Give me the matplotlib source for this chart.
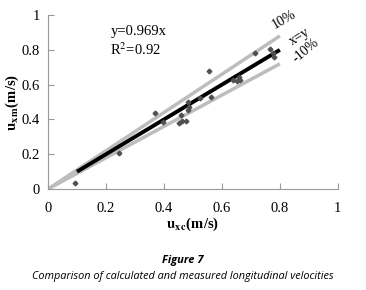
import numpy as np
import matplotlib
matplotlib.use("Agg")
import matplotlib.pyplot as plt

# measured vs calculated longitudinal velocities
u_calc = [0.095, 0.245, 0.37, 0.397, 0.452, 0.46, 0.463, 0.477, 0.483, 0.483, 0.485,
          0.523, 0.557, 0.563, 0.638, 0.652, 0.661, 0.659, 0.713, 0.767, 0.776, 0.779]
u_meas = [0.033, 0.209, 0.44, 0.387, 0.381, 0.425, 0.393, 0.393, 0.454, 0.502, 0.473,
          0.521, 0.678, 0.531, 0.626, 0.62, 0.626, 0.642, 0.78, 0.803, 0.78, 0.761]

xticks = [0, 0.2, 0.4, 0.6, 0.8, 1]
yticks = [0, 0.2, 0.4, 0.6, 0.8, 1]
band_x = [0, 0.8]
line_x = [0.1, 0.8]

plt.rcParams['font.family'] = ['Liberation Serif', 'DejaVu Serif']
plt.rcParams['mathtext.fontset'] = 'stix'

fig = plt.figure(figsize=(3.66, 2.9), dpi=100)
ax = fig.add_axes([0.131, 0.348, 0.792, 0.6])

bx = np.array(band_x)
ax.plot(bx, 1.1 * bx, color='#bdbdbd', lw=2.5, solid_capstyle='butt')
ax.plot(bx, 0.9 * bx, color='#bdbdbd', lw=2.5, solid_capstyle='butt')
ax.plot(line_x, line_x, color='black', lw=2.8, solid_capstyle='butt')
ax.plot(u_calc, u_meas, 'D', color='#505050', ms=2.4, mec='#505050')

ax.set_xlim(0, 1)
ax.set_ylim(0, 1)
ax.set_xticks(xticks)
ax.set_yticks(yticks)
ax.set_xticklabels(['0', '0.2', '0.4', '0.6', '0.8', '1'])
ax.set_yticklabels(['0', '0.2', '0.4', '0.6', '0.8', '1'])
ax.tick_params(direction='in', length=4, color='#999999', labelsize=10.5, pad=6)
ax.tick_params(axis='x', pad=9)
for s in ['top', 'right']:
    ax.spines[s].set_visible(False)
for s in ['left', 'bottom']:
    ax.spines[s].set_color('#999999')

ax.text(0.215, 0.905, 'y=0.969x', fontsize=10.5, va='center')
ax.text(0.215, 0.8, 'R$^2$=0.92', fontsize=10.5, va='center')
ax.text(0.815, 0.975, '10%', fontsize=10, rotation=30, ha='center', va='center')
ax.text(0.87, 0.875, 'x=y', fontsize=10, rotation=32, ha='center', va='center')
ax.text(0.89, 0.795, '-10%', fontsize=10, rotation=40, ha='center', va='center')

ax.set_xlabel(r'$\mathbf{u_{x\,c}}$(m/s)', fontsize=10.5, fontweight='bold', labelpad=1)
ax.set_ylabel(r'$\mathbf{u_{x\,m}}$(m/s)', fontsize=10.5, fontweight='bold', labelpad=0)

fig.text(0.5, 0.1, 'Figure 7', ha='center', va='center', fontsize=8,
         style='italic', fontweight='bold', family='Open Sans')
fig.text(0.5, 0.045, 'Comparison of calculated and measured longitudinal velocities',
         ha='center', va='center', fontsize=7.8, style='italic', family='Open Sans')

fig.savefig('out.png', dpi=100)
